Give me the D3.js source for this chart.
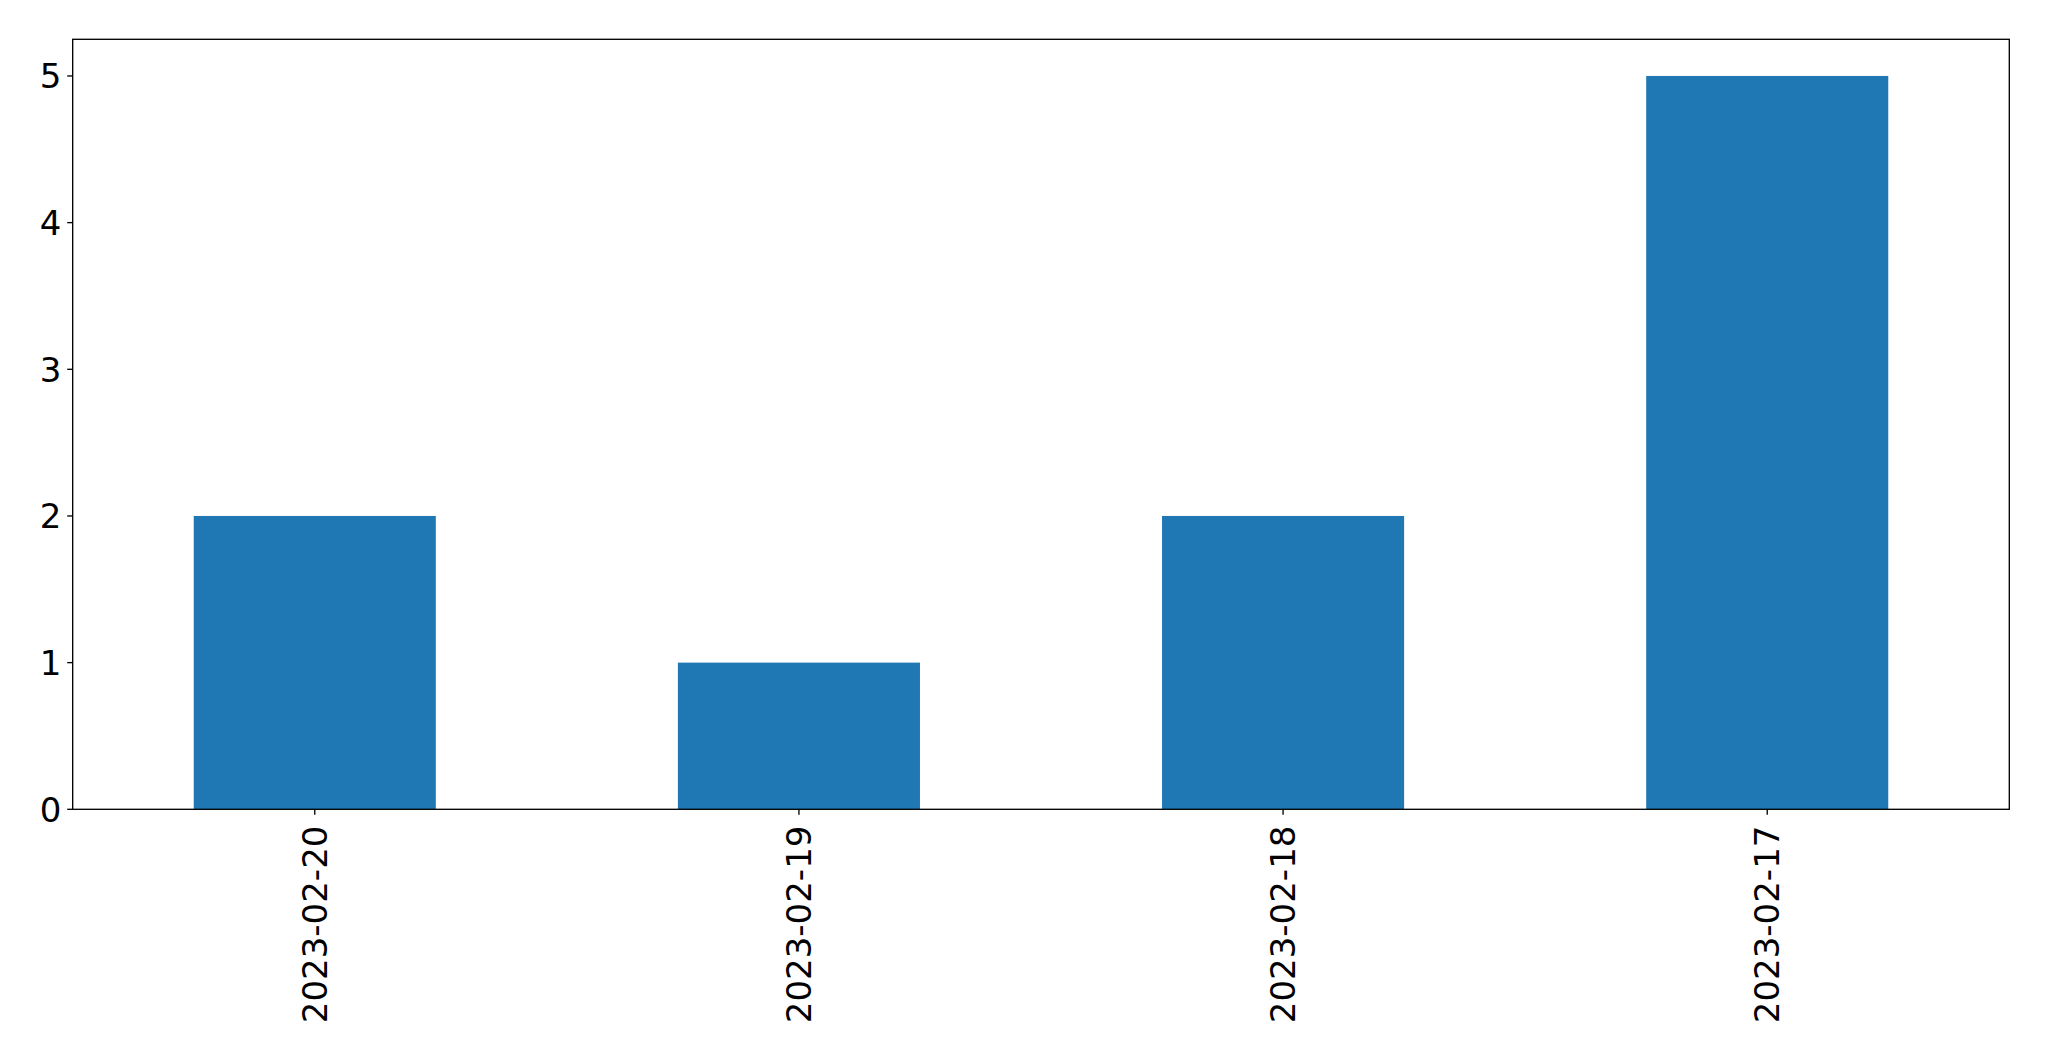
<!DOCTYPE html>
<html><head><meta charset="utf-8">
<script src="https://cdn.jsdelivr.net/npm/d3@7"></script>
<style>body{margin:0;background:#fff}svg{display:block}text{font-family:"DejaVu Sans",sans-serif}</style>
</head><body><svg id="c" width="2049" height="1061"></svg>
<script>
const categories = ["2023-02-20","2023-02-19","2023-02-18","2023-02-17"];
const values = [2,1,2,5];
const yTicks = [0,1,2,3,4,5];

const svg = d3.select("#c");
const L=72.7, R=2009.3, T=39.3, B=809.3;
const fs = 34, tickLen = 5.5, pad = 5.8;

const x = d3.scaleLinear().domain([-0.5, categories.length-0.5]).range([L,R]);
const y = d3.scaleLinear().domain([0, 5.25]).range([B,T]);
const bw = 0.5;

svg.append("g").selectAll("rect").data(values).join("rect")
  .attr("x",(d,i)=>x(i-bw/2)).attr("width",(d,i)=>x(i+bw/2)-x(i-bw/2))
  .attr("y",d=>y(d)).attr("height",d=>y(0)-y(d)).attr("fill","#1f77b4");

const g = svg.append("g");
g.append("rect").attr("x",L).attr("y",T).attr("width",R-L).attr("height",B-T)
  .attr("fill","none").attr("stroke","#000").attr("stroke-width",1.33);

// y ticks
const yt = g.append("g").selectAll("g").data(yTicks).join("g");
yt.append("line").attr("x1",L-tickLen).attr("x2",L).attr("y1",d=>y(d)).attr("y2",d=>y(d))
  .attr("stroke","#000").attr("stroke-width",1.33);
yt.append("text").attr("x",L-tickLen-pad).attr("y",d=>y(d)).attr("dy","0.36em")
  .attr("text-anchor","end").attr("font-size",fs).attr("fill","#000").text(d=>d);

// x ticks
const xt = g.append("g").selectAll("g").data(categories).join("g");
xt.append("line").attr("x1",(d,i)=>x(i)).attr("x2",(d,i)=>x(i)).attr("y1",B).attr("y2",B+tickLen)
  .attr("stroke","#000").attr("stroke-width",1.33);
xt.append("text").attr("transform",(d,i)=>`translate(${x(i)},${B+tickLen+pad+5}) rotate(-90)`)
  .attr("dy","0.36em").attr("text-anchor","end").attr("font-size",fs).attr("fill","#000").text(d=>d);
</script></body></html>
